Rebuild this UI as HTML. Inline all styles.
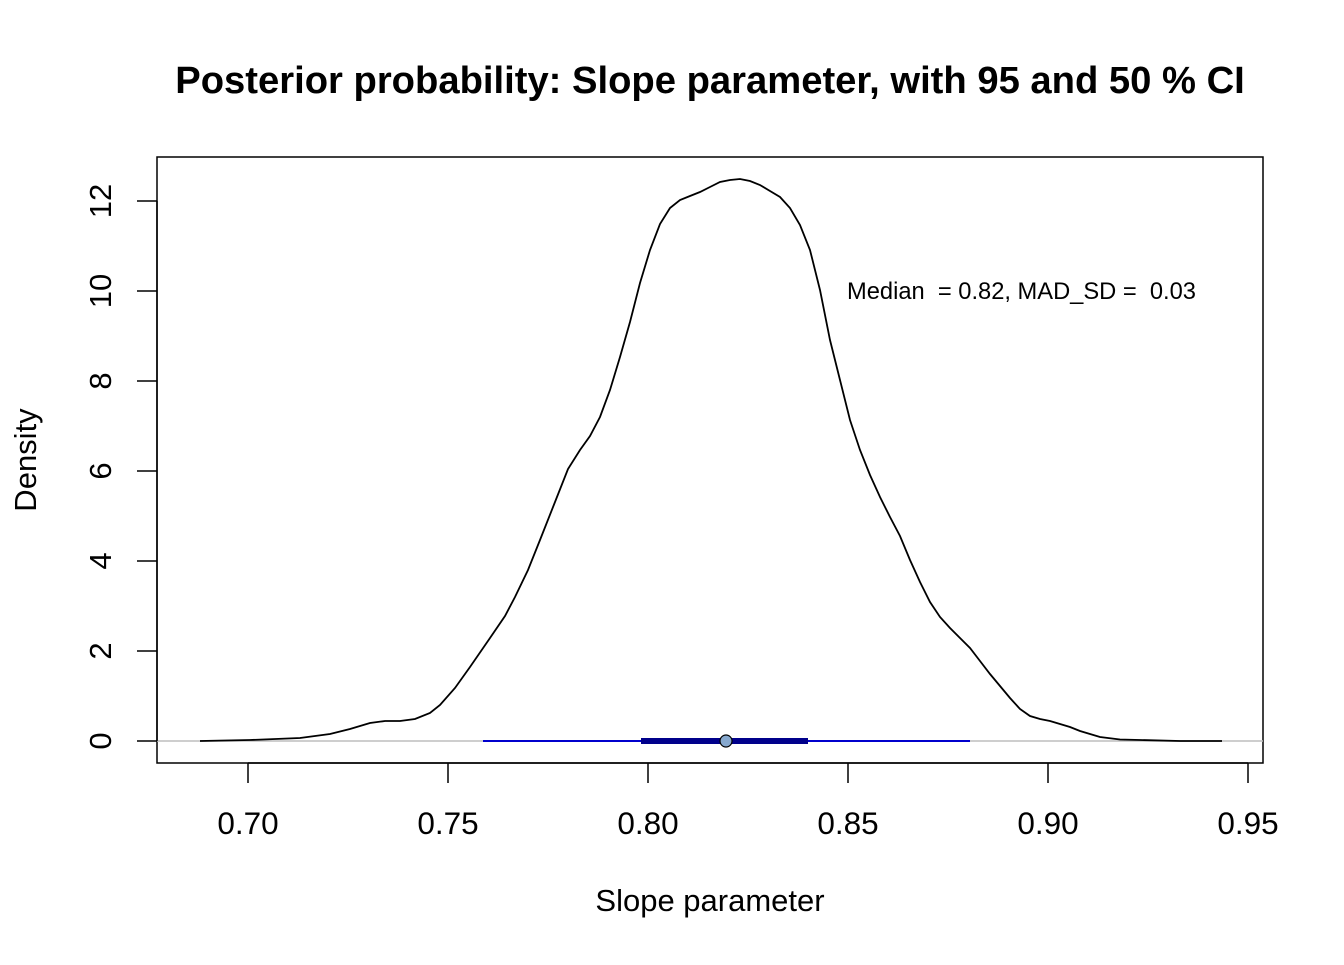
<!DOCTYPE html>
<html><head><meta charset="utf-8"><style>body{margin:0;background:#fff}</style></head><body>
<svg width="1344" height="960" xmlns="http://www.w3.org/2000/svg" font-family="Liberation Sans, Arial, sans-serif">
<rect width="1344" height="960" fill="#fff"/>
<text x="710" y="93" text-anchor="middle" font-size="38.2" font-weight="bold">Posterior probability: Slope parameter, with 95 and 50 % CI</text>
<rect x="157" y="157" width="1106" height="606" fill="none" stroke="#000" stroke-width="1.5"/>
<line x1="157" y1="741" x2="1263" y2="741" stroke="#bebebe" stroke-width="1.5"/>
<polyline fill="none" stroke="#000" stroke-width="1.8" points="200,741 250,740 300,738 330,734 350,729 370,723 385,721 400,721 415,719 430,713 440,705 455,688 470,667 490,638 505,616 515,597 528,570 540,540 555,502 568,469 580,450 590,436 600,417 610,390 620,357 630,322 640,283 650,250 660,224 670,208 680,200 690,196 700,192 710,187 720,182 730,180 740,179 750,181 760,185 770,191 780,197 790,208 800,225 810,250 820,290 830,340 840,380 850,420 860,450 870,475 880,497 890,517 900,536 910,560 920,582 930,602 940,617 950,628 960,638 970,648 980,661 990,674 1000,686 1010,698 1020,709 1030,716 1040,719 1050,721 1060,724 1070,727 1080,731 1090,734 1100,737 1120,739.5 1140,740 1180,741 1222,741"/>
<line x1="483" y1="741" x2="970" y2="741" stroke="#0000cd" stroke-width="2"/>
<line x1="641" y1="741" x2="808" y2="741" stroke="#00008b" stroke-width="6"/>
<circle cx="726" cy="741" r="6" fill="#87a9cf" stroke="#000" stroke-width="1.2"/>
<text x="847" y="299" font-size="23.7" xml:space="preserve">Median  = 0.82, MAD_SD =  0.03</text>
<g stroke="#000" stroke-width="1.5">
<line x1="248" y1="763" x2="1248" y2="763"/>
<line x1="248" y1="763" x2="248" y2="783"/><line x1="448" y1="763" x2="448" y2="783"/><line x1="648" y1="763" x2="648" y2="783"/><line x1="848" y1="763" x2="848" y2="783"/><line x1="1048" y1="763" x2="1048" y2="783"/><line x1="1248" y1="763" x2="1248" y2="783"/>
<line x1="157" y1="741" x2="157" y2="201"/>
<line x1="137" y1="741" x2="157" y2="741"/><line x1="137" y1="651" x2="157" y2="651"/><line x1="137" y1="561" x2="157" y2="561"/><line x1="137" y1="471" x2="157" y2="471"/><line x1="137" y1="381" x2="157" y2="381"/><line x1="137" y1="291" x2="157" y2="291"/><line x1="137" y1="201" x2="157" y2="201"/>
</g>
<g font-size="31" text-anchor="middle">
<text x="248" y="834" font-size="31.5">0.70</text><text x="448" y="834" font-size="31.5">0.75</text><text x="648" y="834" font-size="31.5">0.80</text><text x="848" y="834" font-size="31.5">0.85</text><text x="1048" y="834" font-size="31.5">0.90</text><text x="1248" y="834" font-size="31.5">0.95</text>
<text x="710" y="911">Slope parameter</text>
<text transform="translate(111,741) rotate(-90)">0</text>
<text transform="translate(111,651) rotate(-90)">2</text>
<text transform="translate(111,561) rotate(-90)">4</text>
<text transform="translate(111,471) rotate(-90)">6</text>
<text transform="translate(111,381) rotate(-90)">8</text>
<text transform="translate(111,291) rotate(-90)">10</text>
<text transform="translate(111,201) rotate(-90)">12</text>
<text transform="translate(36,460) rotate(-90)">Density</text>
</g>
</svg>
</body></html>
